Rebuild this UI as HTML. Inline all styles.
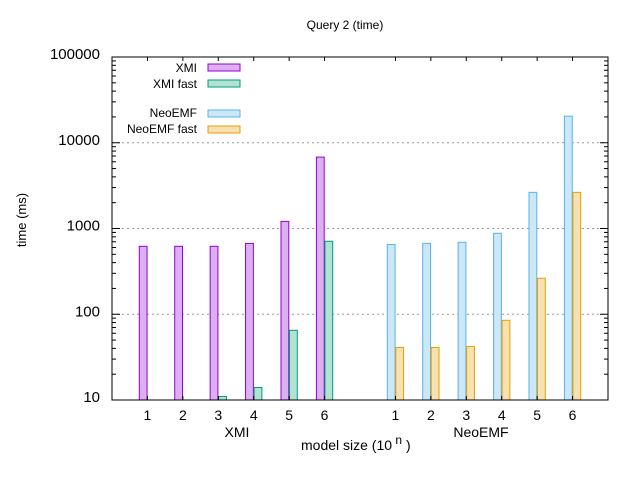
<!DOCTYPE html>
<html><head><meta charset="utf-8"><style>
body{margin:0;background:#fff}
svg{display:block;font-family:"Liberation Sans",sans-serif}
</style></head><body>
<svg id="chart" width="640" height="480" xmlns="http://www.w3.org/2000/svg">
<text x="345" y="29" font-size="12" text-anchor="middle">Query 2 (time)</text>
<text transform="translate(26,220) rotate(-90)" font-size="13" text-anchor="middle">time (ms)</text>
<text x="301" y="450" font-size="14">model size (10<tspan dy="-6" font-size="12"> n</tspan><tspan dy="6"> )</tspan></text>
<text x="237" y="437" font-size="14" text-anchor="middle">XMI</text>
<text x="481" y="437" font-size="14" text-anchor="middle">NeoEMF</text>
<g id="grid"></g><g id="bars"></g><g id="axes"></g>
<g font-size="12" text-anchor="end">
<text x="197" y="72">XMI</text><rect x="208" y="64" width="32" height="7" fill="#dcb0f0" stroke="#9400d3"/>
<text x="197" y="88">XMI fast</text><rect x="208" y="80" width="32" height="7" fill="#b0e3d4" stroke="#009e73"/>
<text x="197" y="117">NeoEMF</text><rect x="208" y="110" width="32" height="7" fill="#cce7f7" stroke="#56b4e9"/>
<text x="197" y="133">NeoEMF fast</text><rect x="208" y="126" width="32" height="7" fill="#f8e1b0" stroke="#e69f00"/>
</g>
</svg>
<script>
const categories=["1","2","3","4","5","6"];
const xmi=[620,620,620,670,1210,6800];
const xmiFast=[null,null,11,14,65,710];
const neo=[650,670,690,880,2640,20400];
const neoFast=[41,41,42,85,263,2640];
const yTicks=[10,100,1000,10000,100000];
const yTickLabels=["10","100","1000","10000","100000"];
const NS="http://www.w3.org/2000/svg";
const L=112,R=608,T=57,B=400;
function xs(k){return L+(R-L)*k/14;}
function ys(v){return B-(Math.log10(v)-1)/4*(B-T);}
function mk(tag,attrs,parent){const e=document.createElementNS(NS,tag);for(const k in attrs)e.setAttribute(k,attrs[k]);parent.appendChild(e);return e;}
const grid=document.getElementById('grid'),bars=document.getElementById('bars'),axes=document.getElementById('axes');
yTicks.forEach((v,i)=>{
  const y=ys(v);
  if(i>0&&i<yTicks.length-1){const g=mk('line',{x1:L,x2:R,y1:y,y2:y,stroke:'#999','stroke-dasharray':'2,3'},grid);
  
  }
  const t=mk('text',{x:L-12,y:y+2,'font-size':15,'text-anchor':'end'},axes);t.textContent=yTickLabels[i];
  
  
  mk('line',{x1:L,x2:L+8,y1:y,y2:y,stroke:'#000'},axes);mk('line',{x1:R,x2:R-8,y1:y,y2:y,stroke:'#000'},axes);
  if(i<yTicks.length-1)for(let m=2;m<10;m++){const ym=ys(v*m);mk('line',{x1:L,x2:L+4,y1:ym,y2:ym,stroke:'#000'},axes);mk('line',{x1:R,x2:R-4,y1:ym,y2:ym,stroke:'#000'},axes);}
});
const bw=(R-L)/14*0.22,gap=(R-L)/14*0.01;
function series(vals,groupOff,side,fill,stroke,name){
  vals.forEach((v,i)=>{
    if(v==null)return;
    const c=xs(groupOff+i+1);
    const x=side<0?c-gap-bw:c+gap;
    const y=ys(v);
    const r=mk('rect',{x:x,y:y,width:bw,height:B-y,fill:fill,stroke:stroke,'stroke-width':1},bars);
    
    
  });
}
series(xmi,0,-1,'#dcb0f0','#9400d3','xmi');
series(xmiFast,0,1,'#b0e3d4','#009e73','xmi-fast');
series(neo,7,-1,'#cce7f7','#56b4e9','neoemf');
series(neoFast,7,1,'#f8e1b0','#e69f00','neoemf-fast');
[0,7].forEach(off=>categories.forEach((c,i)=>{
  const x=xs(off+i+1);
  mk('line',{x1:x,x2:x,y1:B,y2:B-4,stroke:'#000'},axes);mk('line',{x1:x,x2:x,y1:T,y2:T+4,stroke:'#000'},axes);
  const t=mk('text',{x:x,y:420,'font-size':14,'text-anchor':'middle'},axes);t.textContent=c;
  
  
}));
const f=mk('rect',{x:L,y:T,width:R-L,height:B-T,fill:'none',stroke:'#000'},axes);


</script>
</body></html>
